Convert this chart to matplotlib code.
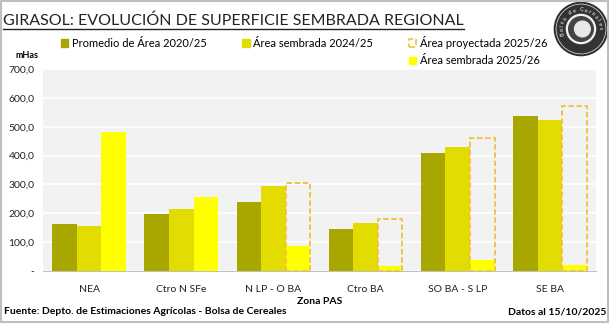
import numpy as np
import matplotlib
matplotlib.use("Agg")
import matplotlib.pyplot as plt
from matplotlib.patches import Patch, Rectangle, Circle
from matplotlib.lines import Line2D

# datos (mHas)
zonas = ["NEA", "Ctro N SFe", "N LP - O BA", "Ctro BA", "SO BA - S LP", "SE BA"]
promedio_2025 = [164, 197, 238, 145, 409, 536]
sembrada_2425 = [156, 215, 294, 168, 429, 525]
proyectada_2526 = [np.nan, np.nan, 306, 181, 460, 572]
sembrada_2526 = [482, 258, 85, 17, 39, 20]
yticks = [0, 100, 200, 300, 400, 500, 600, 700]

plt.rcParams['font.family'] = ['Lato', 'DejaVu Sans']

fig = plt.figure(figsize=(6.12, 3.26), dpi=100)
ax = fig.add_axes([43/612, 1-271/326, 553/612, 202/326])

x = np.arange(len(zonas))
w = 0.2667
c1 = '#A8A700'
c2 = '#E2DC00'
c3 = '#FFFF00'
c_dash = '#F0C040'

ax.bar(x - w, promedio_2025, w, color=c1, zorder=3)
ax.bar(x, sembrada_2425, w, color=c2, zorder=3)
ax.bar(x + w, sembrada_2526, w, color=c3, zorder=3)
ax.bar(x + w, proyectada_2526, w, facecolor='none', edgecolor=c_dash,
       linestyle=(0, (3, 1.5)), linewidth=1.3, zorder=4)

ax.set_facecolor('#F2F2F2')
ax.set_xlim(-0.5, len(zonas) - 0.5)
ax.set_ylim(0, 700)
ax.set_yticks(yticks)
ax.set_yticklabels(['-' if v == 0 else f"{v:.1f}".replace('.', ',') for v in yticks])
ax.grid(axis='y', color='white', linewidth=1.2, zorder=0)
ax.set_axisbelow(True)
for s in ['top', 'right', 'left']:
    ax.spines[s].set_visible(False)
ax.spines['bottom'].set_color('#BFBFBF')
ax.tick_params(axis='both', length=0, labelsize=7.5, colors='#222222')
ax.tick_params(axis='y', pad=6)
ax.tick_params(axis='x', pad=10)
ax.set_xticks(x)
ax.set_xticklabels(zonas)
ax.set_xlabel('Zona PAS', fontsize=7.5, fontweight='bold', labelpad=2)

# leyenda: huecos vacios para que la 4a quede debajo de la 3a
blank = Patch(facecolor='none', edgecolor='none')
handles = [Patch(color=c1), blank, Patch(color=c2), blank,
           Patch(facecolor='none', edgecolor=c_dash, linestyle='--', linewidth=1.2),
           Patch(color=c3)]
labels = ['Promedio de Área 2020/25', '', 'Área sembrada 2024/25', '',
          'Área proyectada 2025/26', 'Área sembrada 2025/26']
fig.legend(handles, labels, ncol=3, loc='upper left', bbox_to_anchor=(55/612, 1-30/326),
           frameon=False, fontsize=8, handlelength=0.7, handleheight=0.7,
           handletextpad=0.3, columnspacing=3.2, labelspacing=0.62, borderpad=0)

# titulo subrayado
t = fig.text(3/612, 1-21/326, 'GIRASOL: EVOLUCIÓN DE SUPERFICIE SEMBRADA REGIONAL',
             fontsize=11.5, va='center', ha='left', color='#222222')
fig.canvas.draw()
bb = t.get_window_extent().transformed(fig.transFigure.inverted())
fig.add_artist(Line2D([bb.x0, bb.x1], [1-29/326, 1-29/326],
                      transform=fig.transFigure, color='#222222', linewidth=1))

fig.text(15/612, 1-55/326, 'mHas', fontsize=6.5, fontweight='bold', va='center')
fig.text(4/612, 1-312/326, 'Fuente: Depto. de Estimaciones Agrícolas - Bolsa de Cereales',
         fontsize=7.5, fontweight='bold', va='center')
fig.text(606/612, 1-312/326, 'Datos al 15/10/2025', fontsize=7.5, fontweight='bold',
         va='center', ha='right')

# logo
lg = fig.add_axes([(581-28)/612, 1-(29+28)/326, 56/612, 56/326])
lg.set_xlim(-1, 1)
lg.set_ylim(-1, 1)
lg.set_aspect('equal')
lg.axis('off')
lg.add_patch(Circle((0, 0), 0.95, color='#2b2b2b'))
lg.add_patch(Circle((0, 0), 0.88, color='#d0d0d0'))
lg.add_patch(Circle((0, 0), 0.85, color='#333333'))
lg.add_patch(Circle((0, 0), 0.52, color='#f2f2f2'))
lg.add_patch(Circle((0, 0), 0.44, color='#444444'))
lg.add_patch(Circle((0.05, 0), 0.28, color='#e8e8e8'))
for i, ch in enumerate('Bolsa de Cereales'):
    ang = np.deg2rad(195 - i * 12)
    lg.text(0.68*np.cos(ang), 0.68*np.sin(ang), ch, fontsize=4, color='white',
            ha='center', va='center', rotation=np.rad2deg(ang) - 90)

# marco
fig.add_artist(Rectangle((1/612, 4/326), 607/612, 321/326, transform=fig.transFigure,
                         fill=False, edgecolor='#BFBFBF', linewidth=1.5))

fig.savefig('out.png', dpi=100)
